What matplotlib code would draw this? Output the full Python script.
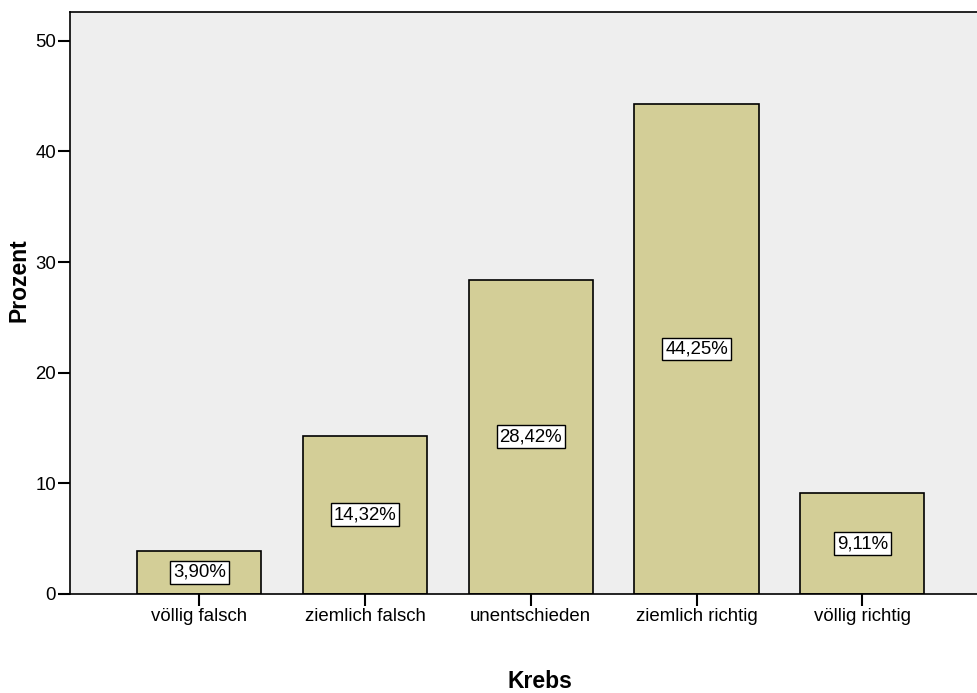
import matplotlib
matplotlib.use("Agg")
import matplotlib.pyplot as plt
from matplotlib import font_manager as fm

categories = ["völlig falsch", "ziemlich falsch", "unentschieden", "ziemlich richtig", "völlig richtig"]
values = [3.90, 14.32, 28.42, 44.25, 9.11]
labels = ["3,90%", "14,32%", "28,42%", "44,25%", "9,11%"]
yticks = [0, 10, 20, 30, 40, 50]

plt.rcParams['font.family'] = ['Liberation Sans', 'DejaVu Sans']

bold_fp = None
for f in fm.fontManager.ttflist:
    if f.name == 'Liberation Sans' and f.weight in (700, 'bold') and f.style == 'normal' \
            and 'Narrow' not in f.fname:
        bold_fp = fm.FontProperties(fname=f.fname, size=16.5)
        break
if bold_fp is None:
    bold_fp = fm.FontProperties(family='Liberation Sans', weight='bold', size=16.5)

fig = plt.figure(figsize=(9.78, 6.93), dpi=100)
ax = fig.add_axes([70/978, (693-594)/693, 1 - 70/978 + 0.002, (594-12)/693])
ax.set_facecolor('#EEEEEE')

x = list(range(len(categories)))
ax.bar(x, values, width=0.75, color='#D3CE97', edgecolor='black', linewidth=1.2, zorder=2)
for xi, v, lab in zip(x, values, labels):
    ax.text(xi, v / 2, lab, ha='center', va='center', fontsize=13.4, zorder=3,
            bbox=dict(boxstyle='square,pad=0.15', facecolor='white', edgecolor='black', linewidth=1))

ax.set_xlim(-0.78, 4.71)
ax.set_ylim(0, 52.6)
ax.set_xticks(x)
ax.set_xticklabels(categories, fontsize=13.4)
ax.set_yticks(yticks)
ax.set_yticklabels([str(t) for t in yticks], fontsize=13.4)
ax.tick_params(axis='both', length=8.5, width=1.5, pad=1.5)
for s in ['left', 'bottom', 'top']:
    ax.spines[s].set_linewidth(1.2)
ax.spines['right'].set_visible(False)

fig.text(19/978, 1 - 280/693, 'Prozent', ha='center', va='center', rotation=90,
         fontproperties=bold_fp)
fig.text(540/978, 1 - 682/693, 'Krebs', ha='center', va='center', fontproperties=bold_fp)

fig.savefig('out.png', dpi=100)
